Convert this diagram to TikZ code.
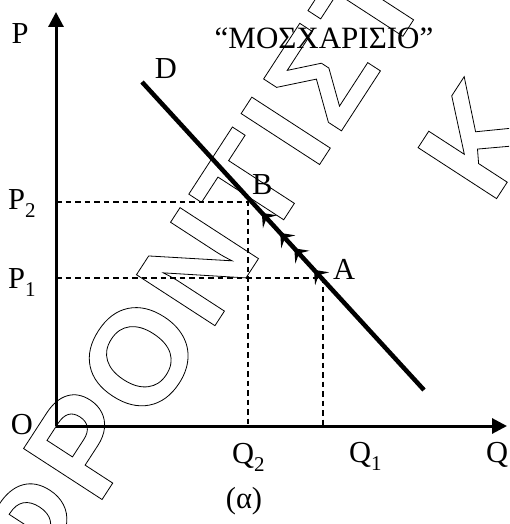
\documentclass[tikz,border=0pt]{standalone}
\usepackage{fontspec}
\setmainfont{Liberation Serif}
\newfontfamily\wmfont[LetterSpace=4]{Liberation Sans Bold}
\usetikzlibrary{arrows.meta,decorations.markings}
\newcommand\lsub[1]{\raisebox{-8pt}{\fontsize{21}{21}\selectfont #1}}
\newcommand\outlinetext[1]{\special{pdf:literal direct 1 Tr 0.8 w}#1\special{pdf:literal direct 0 Tr}}
\tikzset{
  axis/.style={line width=3pt,-{Triangle[length=15pt,width=15pt]}},
  dline/.style={line width=4.5pt},
  dsh/.style={line width=2.6pt,dash pattern=on 5.5pt off 4pt},
  lbl/.style={inner sep=0pt,font=\fontsize{30.5}{32}\selectfont},
  wm/.style={inner sep=0pt,rotate=57,font=\wmfont\fontsize{136}{136}\selectfont},
  flow/.style={line width=1.4pt}
}
\begin{document}
\begin{tikzpicture}[x=1pt,y=-1pt]
\useasboundingbox (0,0) rectangle (509,524);
\clip (0,0) rectangle (509,524);
% watermark
\node[wm,anchor=base west] (wm1) at (97,507.3) {\outlinetext{ΡΟΝΤΙΣΤΗΡΙΟ}};
\node[wm,anchor=base east] (wm0) at (93.2,513.2) {\outlinetext{Φ}};
\node[wm,anchor=base west] (wm2) at (491.5,206.4) {\outlinetext{Κ}};
% coordinates
\coordinate (O) at (56,426);
\coordinate (Ytop) at (56,12);
\coordinate (Xend) at (507,426);
\coordinate (Ds) at (142,82);
\coordinate (De) at (424,390);
\coordinate (P2) at (56,202);
\coordinate (B2) at (248,202);
\coordinate (Q2) at (248,426);
\coordinate (P1) at (56,278);
\coordinate (A1) at (323,278);
\coordinate (Q1) at (323,426);
% dashed guides
\draw[dsh] (P2) -- (B2) -- (Q2);
\draw[dsh] (P1) -- (A1) -- (Q1);
% axes
\draw[axis] (O) -- (Ytop);
\draw[axis] (O) -- (Xend);
% demand line
\draw[dline,postaction={decorate},decoration={markings,
  mark=at position 0.425 with {\arrowreversed[flow]{Stealth[length=12pt,width=19pt,inset=5pt]}},
  mark=at position 0.49 with {\arrowreversed[flow]{Stealth[length=12pt,width=19pt,inset=5pt]}},
  mark=at position 0.54 with {\arrowreversed[flow]{Stealth[length=12pt,width=19pt,inset=5pt]}},
  mark=at position 0.61 with {\arrowreversed[flow]{Stealth[length=12pt,width=19pt,inset=5pt]}}}] (Ds) -- (De);
% labels
\node[lbl,anchor=base] (lP) at (20,44) {P};
\node[lbl,anchor=base] (lD) at (166,79) {D};
\node[inner sep=0pt,anchor=base,font=\fontsize{31}{33}\selectfont] (title) at (324,49) {“ΜΟΣΧΑΡΙΣΙΟ”};
\node[lbl,anchor=base west] (lP2) at (8,209) {P\lsub{2}};
\node[lbl,anchor=base west] (lP1) at (8,288) {P\lsub{1}};
\node[lbl,anchor=base] (lO) at (22,434) {O};
\node[lbl,anchor=base west] (lQ2) at (232,463) {Q\lsub{2}};
\node[lbl,anchor=base west] (lQ1) at (349,462) {Q\lsub{1}};
\node[lbl,anchor=base west] (lQ) at (486,462) {Q};
\node[lbl,anchor=base west] (lA) at (333,279) {A};
\node[lbl,anchor=base west] (lB) at (252,194) {B};
\node[lbl,anchor=base] (lal) at (244,508) {(α)};
\end{tikzpicture}
\end{document}
